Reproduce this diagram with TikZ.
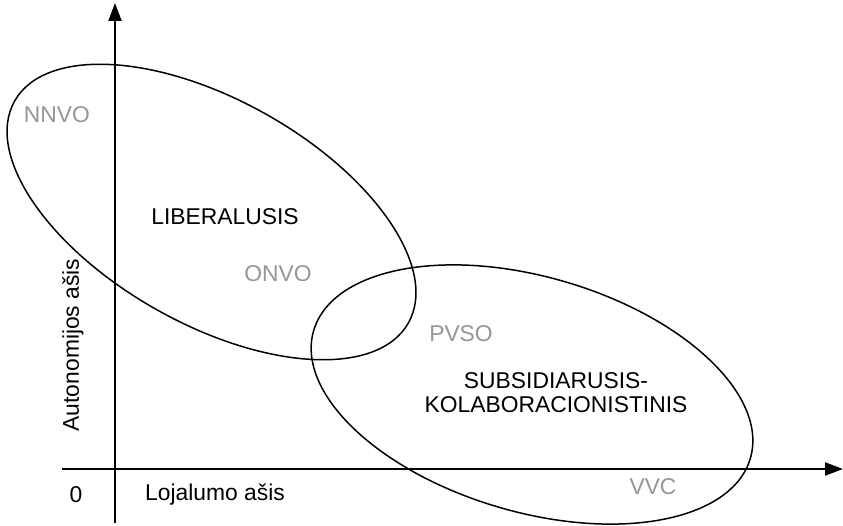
\documentclass[tikz,border=0pt]{standalone}
\usepackage{fontspec}
\setmainfont{Liberation Sans}
\usetikzlibrary{arrows.meta}
\definecolor{labelgray}{RGB}{150,150,150}

\begin{document}
\begin{tikzpicture}[
		axis/.style={line width=1.1pt, -{Triangle[length=0.36cm,width=0.26cm]}},
		zone/.style={line width=0.85pt},
		txt/.style={font=\fontsize{13}{13.6}\selectfont},
		org/.style={txt, text=labelgray}
	]
	\useasboundingbox (0,0) rectangle (16.86,10.5);
	\draw[axis] (1.24,1.12) -- (16.86,1.12);
	\draw[axis] (2.30,0.04) -- (2.30,10.44);
	\draw[zone, rotate around={-29.4:(4.23,6.26)}] (4.23,6.26) ellipse [x radius=4.52, y radius=2.24];
	\draw[zone, rotate around={-16.3:(10.64,2.61)}] (10.64,2.61) ellipse [x radius=4.55, y radius=2.35];
	\node[txt] (zero) at (1.52,0.6) {0};
	\node[txt] (xlab) at (4.3,0.6) {Lojalumo ašis};
	\node[txt, rotate=90] (ylab) at (1.46,3.6) {Autonomijos ašis};
	\node[txt] (lib) at (4.5,6.16) {LIBERALUSIS};
	\node[txt, align=center] (sub) at (11.12,2.64) {SUBSIDIARUSIS-\\KOLABORACIONISTINIS};
	\node[org] (nnvo) at (1.14,8.2) {NNVO};
	\node[org] (onvo) at (5.56,5.02) {ONVO};
	\node[org] (pvso) at (9.22,3.82) {PVSO};
	\node[org] (vvc) at (13.06,0.76) {VVC};
\end{tikzpicture}
\end{document}
